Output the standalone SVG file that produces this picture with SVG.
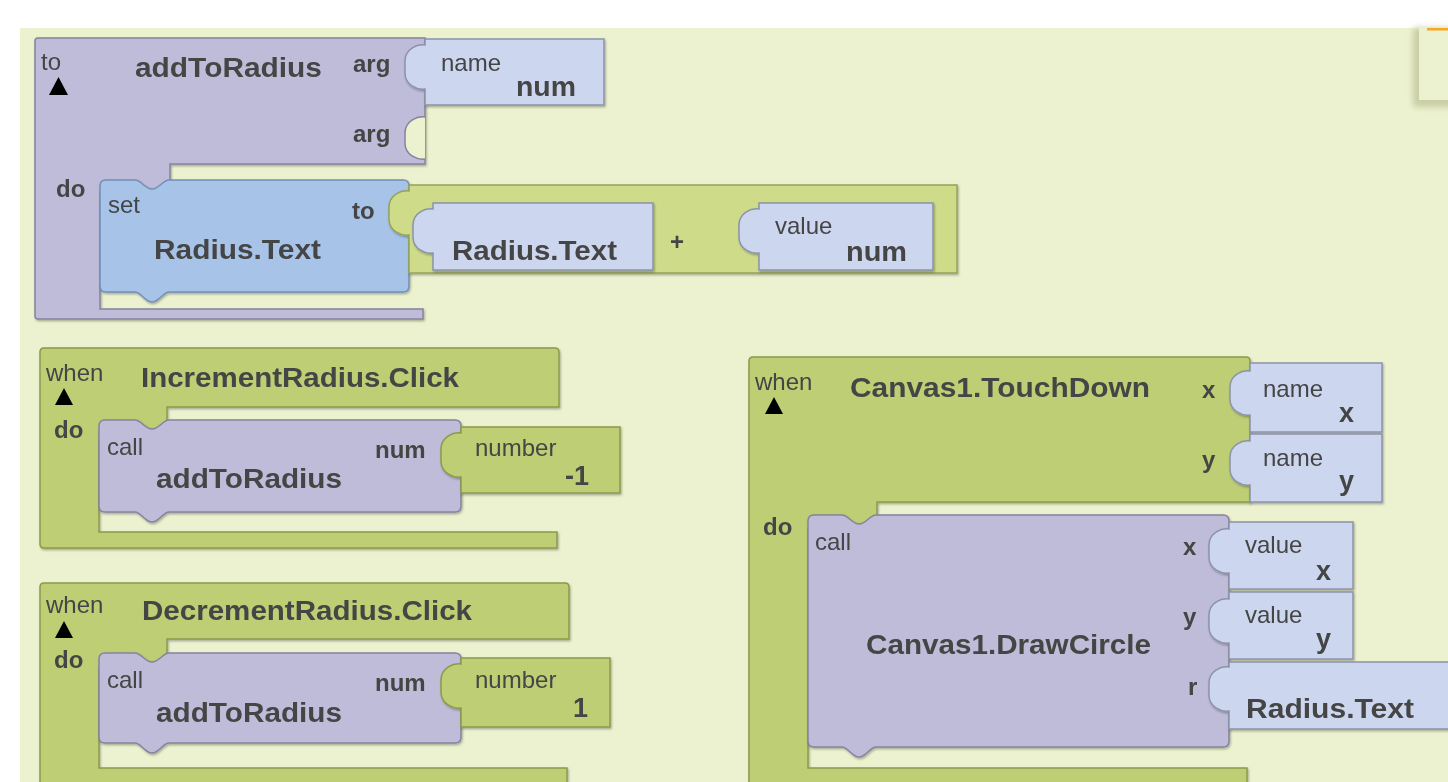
<svg xmlns="http://www.w3.org/2000/svg" width="1448" height="782" viewBox="0 0 1448 782">
<defs>
<style>
text{font-family:"Liberation Sans",Arial,sans-serif;fill:#454545}
.n{font-size:24px}
.sb{font-size:24px;font-weight:bold}
.bb{font-size:27px;font-weight:bold}
.pur{fill:#BEBCD8;stroke:#85839F;stroke-width:1.5}
.lav{fill:#CCD6EE;stroke:#8C94AB;stroke-width:1.5}
.blu{fill:#A7C3E8;stroke:#7290B6;stroke-width:1.5}
.grn{fill:#BDCE74;stroke:#8A9A4A;stroke-width:1.5}
.lgr{fill:#CEDC8A;stroke:#95A455;stroke-width:1.5}
.tri{fill:#000}
.blk{filter:url(#sh)}
</style>
<filter id="sh" x="-5%" y="-5%" width="110%" height="115%">
<feDropShadow dx="1" dy="1.5" stdDeviation="1" flood-color="#000" flood-opacity="0.3"/>
</filter>
<filter id="bl" x="-50%" y="-50%" width="200%" height="200%">
<feGaussianBlur stdDeviation="3"/>
</filter>
</defs>
<rect x="0" y="0" width="1448" height="782" fill="#FFFFFF"/>
<rect x="20" y="28" width="1428" height="754" fill="#ECF2CF"/>
<g id="corner-box">
<rect x="1413" y="28" width="50" height="79" fill="#C9CDA4" filter="url(#bl)"/>
<rect x="1419" y="28" width="40" height="72" fill="#ECF2CF"/>
<rect x="1427" y="28" width="30" height="2.5" fill="#F5A623"/>
</g>
<g id="connectors"/>

<g id="proc-addToRadius" class="blk">
<path class="pur" d="M35,41 Q35,38 38,38 H425 V164 H170 V194 H100 V309 H423 V319 H38 Q35,319 35,316 Z"/>
<path d="M425,159 C417,160 405,155 405,143 L405,133 C405,121 417,116 425,117" fill="#ECF2CF" stroke="#85839F" stroke-width="1.5"/>
<text class="n" x="41" y="70">to</text>
<polygon class="tri" points="49,95 68,95 58.5,77"/>
<text class="bb" x="135" y="77" textLength="187" lengthAdjust="spacingAndGlyphs">addToRadius</text>
<text class="sb" x="353" y="72">arg</text>
<text class="sb" x="353" y="142">arg</text>
<text class="sb" x="56" y="197">do</text>
</g>
<g id="name-num" class="blk">
<path class="lav" d="M425,39 H604 V105 H425 L425,89 C417,90 405,85 405,73 L405,61 C405,49 417,44 425,45 Z"/>
<text class="n" x="441" y="71">name</text>
<text class="bb" x="516" y="96" textLength="60" lengthAdjust="spacingAndGlyphs">num</text>
</g>
<g id="set-radius" class="blk">
<path class="blu" d="M106,180 H135 C141,180 145,189 152,189 C159,189 163,180 169,180 H403 Q409,180 409,186 V286 Q409,292 403,292 H169 C163,292 159,302 152,302 C145,302 141,292 135,292 H106 Q100,292 100,286 V186 Q100,180 106,180 Z"/>
<text class="n" x="108" y="213">set</text>
<text class="sb" x="352" y="219">to</text>
<text class="bb" x="154" y="259" textLength="167" lengthAdjust="spacingAndGlyphs">Radius.Text</text>
</g>
<g id="plus" class="blk">
<path class="lgr" d="M409,185 H957 V273 H409 L409,235 C401,236 389,231 389,219 L389,207 C389,195 401,190 409,191 Z"/>
<text class="sb" x="670" y="250">+</text>
</g>
<g id="plus-radius-text" class="blk">
<path class="lav" d="M433,203 H653 V270 H433 L433,253 C425,254 413,249 413,237 L413,225 C413,213 425,208 433,209 Z"/>
<text class="bb" x="452" y="260" textLength="165" lengthAdjust="spacingAndGlyphs">Radius.Text</text>
</g>
<g id="plus-value-num" class="blk">
<path class="lav" d="M759,203 H933 V270 H759 L759,253 C751,254 739,249 739,237 L739,225 C739,213 751,208 759,209 Z"/>
<text class="n" x="775" y="234">value</text>
<text class="bb" x="846" y="261" textLength="61" lengthAdjust="spacingAndGlyphs">num</text>
</g>

<g id="when-increment" class="blk">
<path class="grn" d="M40,352 Q40,348 44,348 H555 Q559,348 559,352 V407 H167 V434 H99 V532 H557 V548 H44 Q40,548 40,544 Z"/>
<text class="n" x="46" y="381">when</text>
<polygon class="tri" points="55,405 73,405 64,388"/>
<text class="bb" x="141" y="387" textLength="318" lengthAdjust="spacingAndGlyphs">IncrementRadius.Click</text>
<text class="sb" x="54" y="438">do</text>
</g>
<g id="call-inc" class="blk">
<path class="pur" d="M105,420 H135 C141,420 145,429 152,429 C159,429 163,420 169,420 H455 Q461,420 461,426 V506 Q461,512 455,512 H169 C163,512 159,522 152,522 C145,522 141,512 135,512 H105 Q99,512 99,506 V426 Q99,420 105,420 Z"/>
<text class="n" x="107" y="455">call</text>
<text class="bb" x="156" y="488" textLength="186" lengthAdjust="spacingAndGlyphs">addToRadius</text>
<text class="sb" x="375" y="458">num</text>
</g>
<g id="number-neg1" class="blk">
<path class="grn" d="M461,427 H620 V493 H461 L461,477 C453,478 441,473 441,461 L441,449 C441,437 453,432 461,433 Z"/>
<text class="n" x="475" y="456">number</text>
<text class="bb" x="565" y="485">-1</text>
</g>

<g id="when-decrement" class="blk">
<path class="grn" d="M40,587 Q40,583 44,583 H565 Q569,583 569,587 V639 H167 V667 H99 V768 H567 V792 H40 Z"/>
<text class="n" x="46" y="613">when</text>
<polygon class="tri" points="55,638 73,638 64,621"/>
<text class="bb" x="142" y="620" textLength="330" lengthAdjust="spacingAndGlyphs">DecrementRadius.Click</text>
<text class="sb" x="54" y="668">do</text>
</g>
<g id="call-dec" class="blk">
<path class="pur" d="M105,653 H135 C141,653 145,662 152,662 C159,662 163,653 169,653 H455 Q461,653 461,659 V737 Q461,743 455,743 H169 C163,743 159,753 152,753 C145,753 141,743 135,743 H105 Q99,743 99,737 V659 Q99,653 105,653 Z"/>
<text class="n" x="107" y="688">call</text>
<text class="bb" x="156" y="722" textLength="186" lengthAdjust="spacingAndGlyphs">addToRadius</text>
<text class="sb" x="375" y="691">num</text>
</g>
<g id="number-1" class="blk">
<path class="grn" d="M461,658 H610 V727 H461 L461,708 C453,709 441,704 441,692 L441,680 C441,668 453,663 461,664 Z"/>
<text class="n" x="475" y="688">number</text>
<text class="bb" x="573" y="717">1</text>
</g>

<g id="when-touchdown" class="blk">
<path class="grn" d="M749,361 Q749,357 753,357 H1246 Q1250,357 1250,361 V502 H877 V529 H808 V768 H1247 V792 H749 Z"/>
<text class="n" x="755" y="390">when</text>
<polygon class="tri" points="765,414 783,414 774,397"/>
<text class="bb" x="850" y="397" textLength="300" lengthAdjust="spacingAndGlyphs">Canvas1.TouchDown</text>
<text class="sb" x="1202" y="398">x</text>
<text class="sb" x="1202" y="468">y</text>
<text class="sb" x="763" y="535">do</text>
</g>
<g id="name-x" class="blk">
<path class="lav" d="M1250,363 H1382 V432 H1250 L1250,415 C1242,416 1230,411 1230,399 L1230,387 C1230,375 1242,370 1250,371 Z"/>
<text class="n" x="1263" y="397">name</text>
<text class="bb" x="1339" y="422">x</text>
</g>
<g id="name-y" class="blk">
<path class="lav" d="M1250,434 H1382 V502 H1250 L1250,485 C1242,486 1230,481 1230,469 L1230,457 C1230,445 1242,440 1250,441 Z"/>
<text class="n" x="1263" y="466">name</text>
<text class="bb" x="1339" y="490">y</text>
</g>
<g id="call-drawcircle" class="blk">
<path class="pur" d="M814,515 H842 C848,515 852,524 859,524 C866,524 870,515 876,515 H1223 Q1229,515 1229,521 V741 Q1229,747 1223,747 H876 C870,747 866,757 859,757 C852,757 848,747 842,747 H814 Q808,747 808,741 V521 Q808,515 814,515 Z"/>
<text class="n" x="815" y="550">call</text>
<text class="bb" x="866" y="654" textLength="285" lengthAdjust="spacingAndGlyphs">Canvas1.DrawCircle</text>
<text class="sb" x="1183" y="555">x</text>
<text class="sb" x="1183" y="625">y</text>
<text class="sb" x="1188" y="695">r</text>
</g>
<g id="value-x" class="blk">
<path class="lav" d="M1229,522 H1353 V589 H1229 L1229,573 C1221,574 1209,569 1209,557 L1209,545 C1209,533 1221,528 1229,529 Z"/>
<text class="n" x="1245" y="553">value</text>
<text class="bb" x="1316" y="580">x</text>
</g>
<g id="value-y" class="blk">
<path class="lav" d="M1229,592 H1353 V659 H1229 L1229,643 C1221,644 1209,639 1209,627 L1209,615 C1209,603 1221,598 1229,599 Z"/>
<text class="n" x="1245" y="623">value</text>
<text class="bb" x="1316" y="648">y</text>
</g>
<g id="r-radius-text" class="blk">
<path class="lav" d="M1229,662 H1460 V729 H1229 L1229,711 C1221,712 1209,707 1209,695 L1209,683 C1209,671 1221,666 1229,667 Z"/>
<text class="bb" x="1246" y="718" textLength="168" lengthAdjust="spacingAndGlyphs">Radius.Text</text>
</g>
</svg>
